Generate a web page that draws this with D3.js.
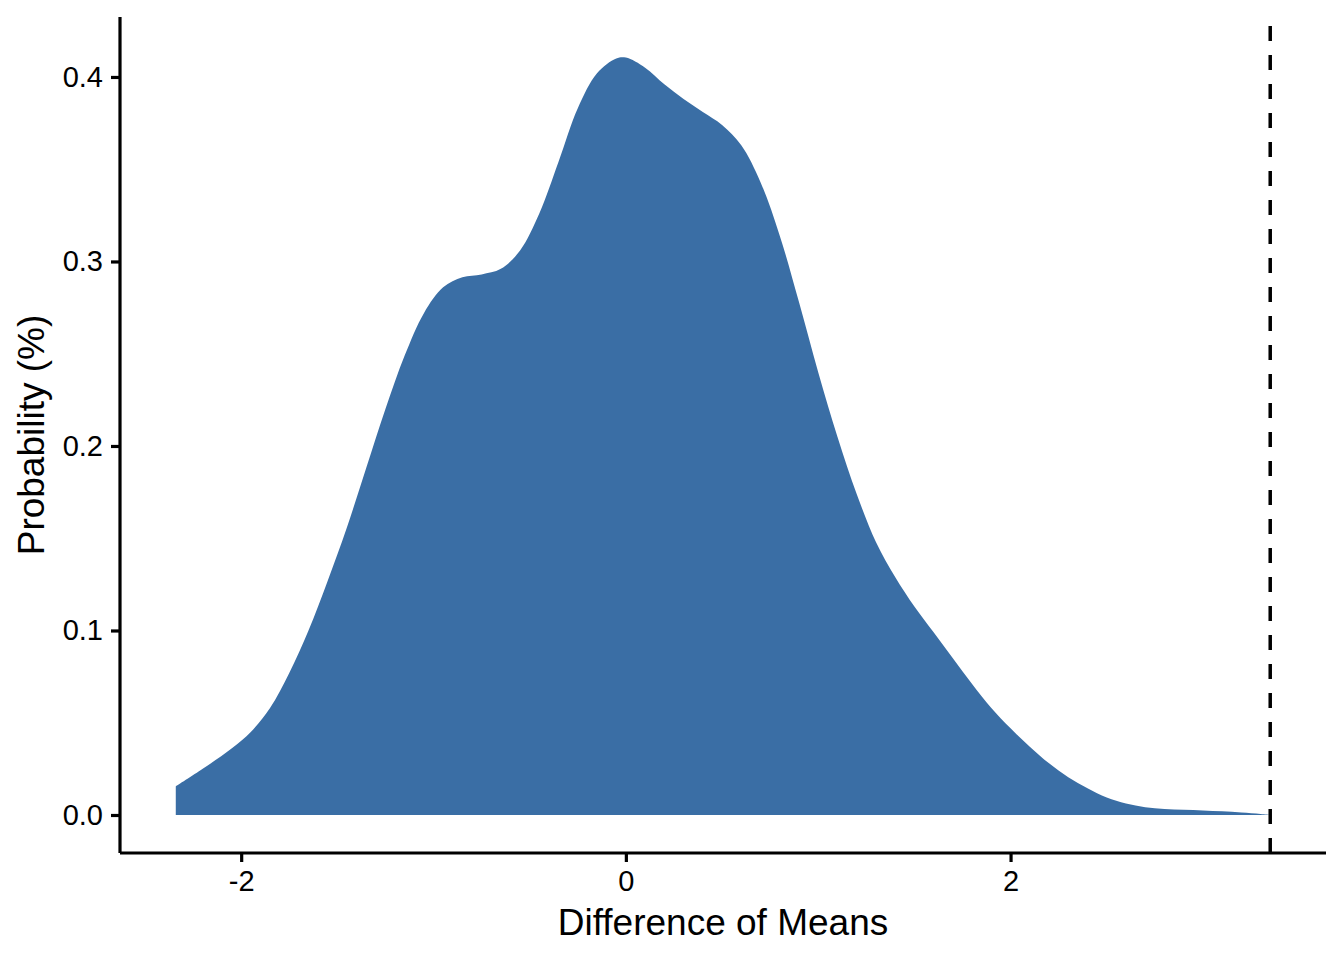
<!DOCTYPE html>
<html>
<head>
<meta charset="utf-8">
<script src="https://cdn.jsdelivr.net/npm/d3@7"></script>
<style>
  body { margin: 0; background: #fff; }
  text { font-family: "Liberation Sans", Arial, Helvetica, sans-serif; fill: #000; }
</style>
</head>
<body>
<div id="chart"></div>
<script>
// density estimate
let diffX = [-2.34, -2.2, -2.05, -1.95, -1.85, -1.75, -1.65, -1.55, -1.45, -1.35, -1.25, -1.15, -1.05, -0.95, -0.85, -0.75, -0.65, -0.55, -0.45, -0.35, -0.25, -0.15, -0.05, 0.0, 0.1, 0.2, 0.3, 0.4, 0.5, 0.6, 0.7, 0.8, 0.9, 1.0, 1.1, 1.2, 1.3, 1.4, 1.5, 1.6, 1.7, 1.8, 1.9, 2.0, 2.1, 2.2, 2.3, 2.4, 2.5, 2.6, 2.7, 2.8, 2.9, 3.0, 3.1, 3.2, 3.3, 3.35];
let density = [0.0155, 0.025, 0.036, 0.045, 0.058, 0.077, 0.100, 0.127, 0.156, 0.188, 0.220, 0.249, 0.272, 0.286, 0.2915, 0.293, 0.296, 0.306, 0.326, 0.354, 0.383, 0.402, 0.410, 0.4105, 0.405, 0.396, 0.388, 0.381, 0.374, 0.363, 0.343, 0.314, 0.278, 0.240, 0.205, 0.174, 0.148, 0.129, 0.113, 0.099, 0.085, 0.071, 0.058, 0.047, 0.037, 0.028, 0.0205, 0.0145, 0.0095, 0.0062, 0.0042, 0.0032, 0.0028, 0.0025, 0.002, 0.0013, 0.0005, 0.0];
let observed = 3.35;
let xTicks = [-2, 0, 2];
let yTicks = [0.0, 0.1, 0.2, 0.3, 0.4];

let width = 1344, height = 960;
let margin = {top: 17, right: 18, bottom: 107, left: 120};

let svg = d3.select('#chart').append('svg').attr('width', width).attr('height', height);

let x = d3.scaleLinear().domain([-2.63, 3.64]).range([margin.left, width - margin.right]);
let y = d3.scaleLinear().domain([-0.0206, 0.4325]).range([height - margin.bottom, margin.top]);

let points = diffX.map((d, i) => ({x: d, y: density[i]}));

svg.append('path')
    .datum(points)
    .attr('fill', '#3A6EA5')
    .attr('d', d3.area()
        .x(d => x(d.x))
        .y0(y(0))
        .y1(d => Math.min(y(0), y(d.y)))
        .curve(d3.curveCatmullRom.alpha(0.5)));

svg.append('line')
    .attr('x1', x(observed)).attr('x2', x(observed))
    .attr('y1', height - margin.bottom).attr('y2', margin.top)
    .attr('stroke', '#000')
    .attr('stroke-width', 3.5)
    .attr('stroke-dasharray', '15,14');

let xAxis = svg.append('g')
    .attr('transform', 'translate(0,' + (height - margin.bottom) + ')')
    .call(d3.axisBottom(x).tickValues(xTicks).tickFormat(d => String(d)).tickSize(9).tickPadding(8));

let yAxis = svg.append('g')
    .attr('transform', 'translate(' + margin.left + ',0)')
    .call(d3.axisLeft(y).tickValues(yTicks).tickFormat(d => d.toFixed(1)).tickSize(9).tickPadding(8));

[xAxis, yAxis].forEach(g => {
    g.select('.domain').attr('stroke', '#000').attr('stroke-width', 3.2);
    g.selectAll('.tick line').attr('stroke', '#000').attr('stroke-width', 3.2);
    g.selectAll('.tick text').style('font-size', '29px').attr('fill', '#000');
});
xAxis.selectAll('.domain').attr('d', 'M' + margin.left + ',0H' + (width - margin.right));
yAxis.selectAll('.domain').attr('d', 'M0,' + (height - margin.bottom) + 'V' + margin.top);

svg.append('text')
    .attr('x', (margin.left + width - margin.right) / 2)
    .attr('y', 935)
    .attr('text-anchor', 'middle')
    .style('font-size', '37px')
    .text('Difference of Means');

svg.append('text')
    .attr('transform', 'translate(44,' + (margin.top + height - margin.bottom) / 2 + ') rotate(-90)')
    .attr('text-anchor', 'middle')
    .style('font-size', '37px')
    .text('Probability (%)');
</script>
</body>
</html>
